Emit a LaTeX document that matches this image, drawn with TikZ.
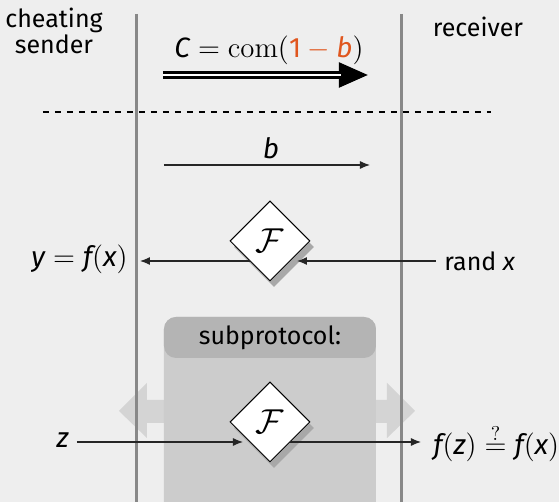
\documentclass[tikz,border=0pt]{standalone}
\usepackage[no-math]{fontspec}
\setmainfont{Fira Sans}
\usepackage{xcolor,tikz}
\usetikzlibrary{positioning,calc,shapes.geometric,arrows.meta,shadows}
\definecolor{protoBg}{HTML}{EEEEEE}
\definecolor{protoLine}{HTML}{888888}
\definecolor{protoBox}{HTML}{CCCCCC}
\definecolor{protoHead}{HTML}{B4B4B4}
\definecolor{protoArrow}{HTML}{D4D4D4}
\definecolor{protoShadow}{HTML}{A8A8A8}
\definecolor{protoOrange}{HTML}{E0561E}
\newcommand\mv[1]{\textit{#1}}

\tikzset{
  every node/.style={font=\fontsize{12.5}{13}\selectfont, inner sep=1pt},
  party/.style={align=center},
  formula/.style={font=\fontsize{14}{16}\selectfont},
  oracle/.style={diamond, draw=black, line width=0.5pt, fill=white,
    minimum width=40pt, minimum height=40pt, inner sep=0pt,
    font=\fontsize{16}{18}\selectfont,
    drop shadow={shadow xshift=2pt, shadow yshift=-3pt,
      fill=protoShadow, opacity=1}},
  msg/.style={draw=black!85, line width=0.6pt, -{Latex[length=5pt,width=4pt]}},
  wall/.style={draw=protoLine, line width=1.5pt},
}

\begin{document}
\begin{tikzpicture}[x=0.5pt, y=-0.5pt]
\fill[protoBg] (0,0) rectangle (559,502);
\useasboundingbox (0,0) rectangle (559,502);

%% subprotocol backdrop
\fill[protoArrow] (119,411) -- (147,383) -- (147,400) -- (387,400)
  -- (387,383) -- (415,411) -- (387,438) -- (387,423) -- (147,423)
  -- (147,438) -- cycle;
\fill[protoBox, rounded corners=6pt] (164,317) rectangle (376,530);
\node[fill=protoHead, rounded corners=6pt, minimum width=106pt,
      minimum height=20.5pt, inner sep=0pt]
  (subhead) at (270,337.5) {subprotocol:};

%% parties
\coordinate (sTop) at (137,14);
\coordinate (sBot) at (137,502);
\coordinate (rTop) at (402,14);
\coordinate (rBot) at (402,502);
\draw[wall] (sTop) -- (sBot);
\draw[wall] (rTop) -- (rBot);
\node[party] (sender) at (54,31) {cheating\\sender};
\node (receiver) at (478,27) {receiver};

%% commitment
\coordinate (cA) at (163,75);
\coordinate (cB) at (369,75);
\draw[line width=3.8pt, -{Triangle[length=15pt,width=11.5pt]}] (cA) -- (cB);
\draw[white, line width=1.1pt, shorten >=14pt] (cA) -- (cB);
\node[formula] (commit) at (269,50)
  {$\mv{C} = \mathrm{com}(\textcolor{protoOrange}{\textup{1} - \mv{b}})$};

\coordinate (dL) at (43,112);
\coordinate (dR) at (491,112);
\draw[dashed, line width=0.8pt] (dL) -- (dR);

%% bit
\coordinate (bA) at (164,165);
\coordinate (bB) at (370,165);
\draw[msg] (bA) -- (bB);
\node[formula] (blabel) at (271,148) {$\mv{b}$};

%% first oracle call
\node[oracle] (F1) at (270,241) {$\mathcal{F}$};
\node[anchor=west, inner sep=4pt] (randx) at (436,261) {rand \mv{x}};
\node[formula, anchor=east, inner sep=6pt] (yval) at (140,259)
  {$\mv{y} = \mv{f}(\mv{x})$};
\coordinate (F1in) at (297,261);
\coordinate (F1out) at (250,261);
\draw[msg] (randx.west) -- (F1in);
\draw[msg] (F1out) -- (yval.east |- F1out);

%% second oracle call
\node[oracle] (F2) at (270,422) {$\mathcal{F}$};
\node[formula, anchor=east, inner sep=4pt] (zin) at (77,440) {$\mv{z}$};
\node[formula, anchor=base west, inner sep=6pt] (check) at (421,455)
  {$\mv{f}(\mv{z}) \stackrel{?}{=} \mv{f}(\mv{x})$};
\coordinate (F2in) at (243,442);
\coordinate (F2out) at (290,442);
\draw[msg] (zin.east |- F2in) -- (F2in);
\draw[msg] (F2out) -- (F2out -| check.west);

\end{tikzpicture}
\end{document}
